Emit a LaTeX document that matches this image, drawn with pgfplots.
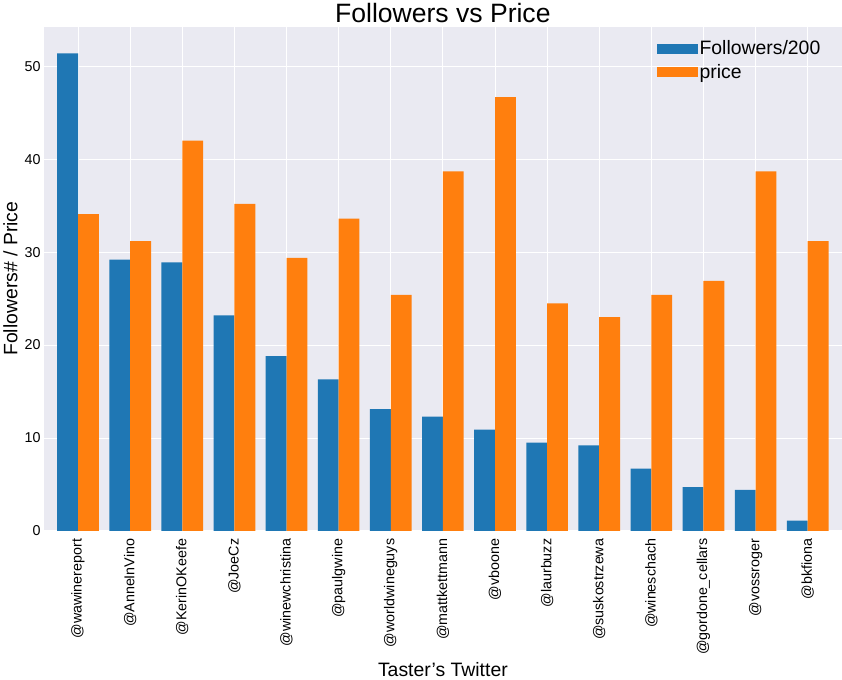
\documentclass[border=0pt]{standalone}
\usepackage{pgfplots}
\pgfplotsset{compat=1.18}
\usepackage{fontspec}
\setmainfont{Liberation Sans}
\definecolor{sbg}{HTML}{EAEAF2}
\definecolor{tb}{HTML}{1F77B4}
\definecolor{to}{HTML}{FF7F0E}
\begin{document}
\begin{tikzpicture}
\begin{axis}[
  width=778bp, height=492bp, scale only axis,
  axis background/.style={fill=sbg},
  axis line style={draw=none},
  grid=major, grid style={white, line width=0.8pt},
  tick style={draw=none},
  ybar=0pt, bar width=0.4,
  xmin=-0.65, xmax=14.65, ymin=0, ymax=54.3,
  xtick=data,
  xticklabels={@wawinereport,@AnneInVino,@KerinOKeefe,@JoeCz,@winewchristina,@paulgwine,@worldwineguys,@mattkettmann,@vboone,@laurbuzz,@suskostrzewa,@wineschach,@gordone\_cellars,@vossroger,@bkfiona},
  xticklabel style={rotate=90, anchor=east, font=\fontsize{14}{16}\selectfont},
  ytick={0,10,20,30,40,50},
  yticklabel style={font=\fontsize{14}{16}\selectfont},
  /pgf/number format/assume math mode=true,
  title={Followers vs Price}, title style={font=\fontsize{26}{30}\selectfont, yshift=-6pt},
  xlabel={Taster's Twitter}, ylabel={Followers\# / Price},
  label style={font=\fontsize{19}{22}\selectfont},
  legend style={draw=none, fill=none, at={(0.98,0.98)}, anchor=north east, font=\fontsize{19}{22}\selectfont, cells={anchor=west}, row sep=4pt},
  legend image code/.code={\fill[#1] (0cm,-0.17cm) rectangle (1.4cm,0.17cm);},
]
\addplot[fill=tb, draw=none] coordinates {(0,51.4)(1,29.2)(2,28.9)(3,23.2)(4,18.8)(5,16.3)(6,13.1)(7,12.3)(8,10.9)(9,9.5)(10,9.2)(11,6.7)(12,4.7)(13,4.4)(14,1.1)};
\addplot[fill=to, draw=none] coordinates {(0,34.1)(1,31.2)(2,42.0)(3,35.2)(4,29.4)(5,33.6)(6,25.4)(7,38.7)(8,46.7)(9,24.5)(10,23.0)(11,25.4)(12,26.9)(13,38.7)(14,31.2)};
\legend{Followers/200, price}
\end{axis}
\end{tikzpicture}
\end{document}
